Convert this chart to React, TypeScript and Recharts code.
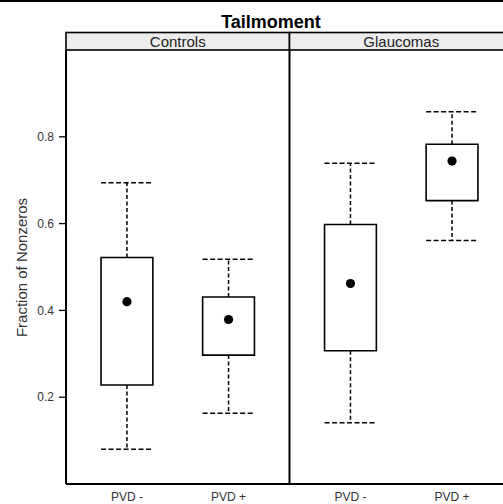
import React from "react";
import {
  ComposedChart,
  XAxis,
  YAxis,
  Scatter,
  ReferenceArea,
  ReferenceLine,
} from "recharts";

// ---- data ----
const panels = ["Controls", "Glaucomas"];
const categories = ["PVD -", "PVD +"];
const whiskerLow = [0.08, 0.163, 0.141, 0.561];
const q1 = [0.228, 0.297, 0.307, 0.653];
const medians = [0.42, 0.379, 0.462, 0.744];
const q3 = [0.522, 0.431, 0.598, 0.783];
const whiskerHigh = [0.694, 0.518, 0.739, 0.858];
const yTicks = [0.2, 0.4, 0.6, 0.8];
const title = "Tailmoment";
const yLabel = "Fraction of Nonzeros";

// ---- layout constants (lattice style: each panel spans 0.4 .. n+0.6) ----
const PANEL_SPAN = categories.length + 0.2;
const HALF = 0.255;
const FONT = "'Liberation Sans', Arial, Helvetica, sans-serif";

const boxes = panels.flatMap((p, pi) =>
  categories.map((c, ci) => {
    const i = pi * categories.length + ci;
    return {
      panel: p,
      label: c,
      x: pi * PANEL_SPAN + ci + 1,
      lo: whiskerLow[i],
      q1: q1[i],
      med: medians[i],
      q3: q3[i],
      hi: whiskerHigh[i],
    };
  })
);
const xTicks = boxes.map((b) => b.x);
const labelAt = (v: number) => {
  const b = boxes.find((bb) => Math.abs(bb.x - v) < 1e-6);
  return b ? b.label : "";
};
const dividers = panels.slice(1).map((_, i) => 0.4 + (i + 1) * PANEL_SPAN);
const xMin = 0.4;
const xMax = 0.4 + panels.length * PANEL_SPAN;

const Dot = (props: any) => (
  <circle cx={props.cx} cy={props.cy} r={4.6} fill="#000" />
);

export default function App() {
  const W = 515;
  const H = 504;
  const plotLeft = 66;
  const plotRight = W - 2;
  const pw = (plotRight - plotLeft) / panels.length;
  return (
    <div
      style={{
        position: "absolute",
        left: 0,
        top: 0,
        width: 503,
        height: 504,
        overflow: "hidden",
        background: "#fff",
      }}
    >
      <ComposedChart
        width={W}
        height={H}
        margin={{ top: 50, right: 2, bottom: 0, left: 1 }}
      >
        <XAxis
          type="number"
          dataKey="x"
          domain={[xMin, xMax]}
          ticks={xTicks}
          tickFormatter={labelAt}
          allowDataOverflow
          height={20}
          tickLine={false}
          tickSize={0}
          tickMargin={8.5}
          axisLine={{ stroke: "#000", strokeWidth: 2 }}
          tick={{ fill: "#333", fontSize: 12, fontFamily: FONT }}
        />
        <YAxis
          type="number"
          dataKey="y"
          domain={[0, 1]}
          ticks={yTicks}
          allowDataOverflow
          width={65}
          tickSize={7}
          tickMargin={5}
          axisLine={{ stroke: "#000", strokeWidth: 2 }}
          tickLine={{ stroke: "#000", strokeWidth: 1.3 }}
          tick={{ fill: "#333", fontSize: 12, fontFamily: FONT }}
        />
        {dividers.map((d) => (
          <ReferenceLine
            key={"div" + d}
            x={d}
            stroke="#000"
            strokeWidth={2}
            ifOverflow="visible"
          />
        ))}
        {boxes.map((b, i) => (
          <ReferenceArea
            key={"box" + i}
            x1={b.x - HALF}
            x2={b.x + HALF}
            y1={b.q1}
            y2={b.q3}
            fill="none"
            fillOpacity={0}
            stroke="#000"
            strokeWidth={1.6}
            ifOverflow="visible"
          />
        ))}
        {boxes.map((b, i) => (
          <ReferenceLine
            key={"wh" + i}
            segment={[
              { x: b.x, y: b.q3 },
              { x: b.x, y: b.hi },
            ]}
            stroke="#000"
            strokeWidth={1.5}
            strokeDasharray="4 2.5"
            ifOverflow="visible"
          />
        ))}
        {boxes.map((b, i) => (
          <ReferenceLine
            key={"wl" + i}
            segment={[
              { x: b.x, y: b.q1 },
              { x: b.x, y: b.lo },
            ]}
            stroke="#000"
            strokeWidth={1.5}
            strokeDasharray="4 2.5"
            ifOverflow="visible"
          />
        ))}
        {boxes.map((b, i) => (
          <ReferenceLine
            key={"ch" + i}
            segment={[
              { x: b.x - HALF, y: b.hi },
              { x: b.x + HALF, y: b.hi },
            ]}
            stroke="#000"
            strokeWidth={1.5}
            strokeDasharray="5 2.5"
            ifOverflow="visible"
          />
        ))}
        {boxes.map((b, i) => (
          <ReferenceLine
            key={"cl" + i}
            segment={[
              { x: b.x - HALF, y: b.lo },
              { x: b.x + HALF, y: b.lo },
            ]}
            stroke="#000"
            strokeWidth={1.5}
            strokeDasharray="5 2.5"
            ifOverflow="visible"
          />
        ))}
        <Scatter
          data={boxes.map((b) => ({ x: b.x, y: b.med }))}
          dataKey="y"
          shape={Dot}
          isAnimationActive={false}
        />
      </ComposedChart>
      <svg
        width={503}
        height={504}
        style={{ position: "absolute", left: 0, top: 0, pointerEvents: "none" }}
      >
        <rect x={0} y={0} width={503} height={2} fill="#000" />
        <text
          x={271}
          y={28.3}
          textAnchor="middle"
          fontFamily={FONT}
          fontWeight="bold"
          fontSize={18}
          fill="#000"
        >
          {title}
        </text>
        {panels.map((p, i) => (
          <g key={p}>
            <rect
              x={plotLeft + i * pw}
              y={32.5}
              width={pw}
              height={17.5}
              fill="#ededed"
              stroke="#000"
              strokeWidth={1.6}
            />
            <text
              x={plotLeft + (i + 0.5) * pw}
              y={47}
              textAnchor="middle"
              fontFamily={FONT}
              fontSize={15}
              fill="#222"
            >
              {p}
            </text>
          </g>
        ))}
        <text
          transform="translate(27,267.5) rotate(-90)"
          textAnchor="middle"
          fontFamily={FONT}
          fontSize={15}
          fill="#333"
        >
          {yLabel}
        </text>
      </svg>
    </div>
  );
}
